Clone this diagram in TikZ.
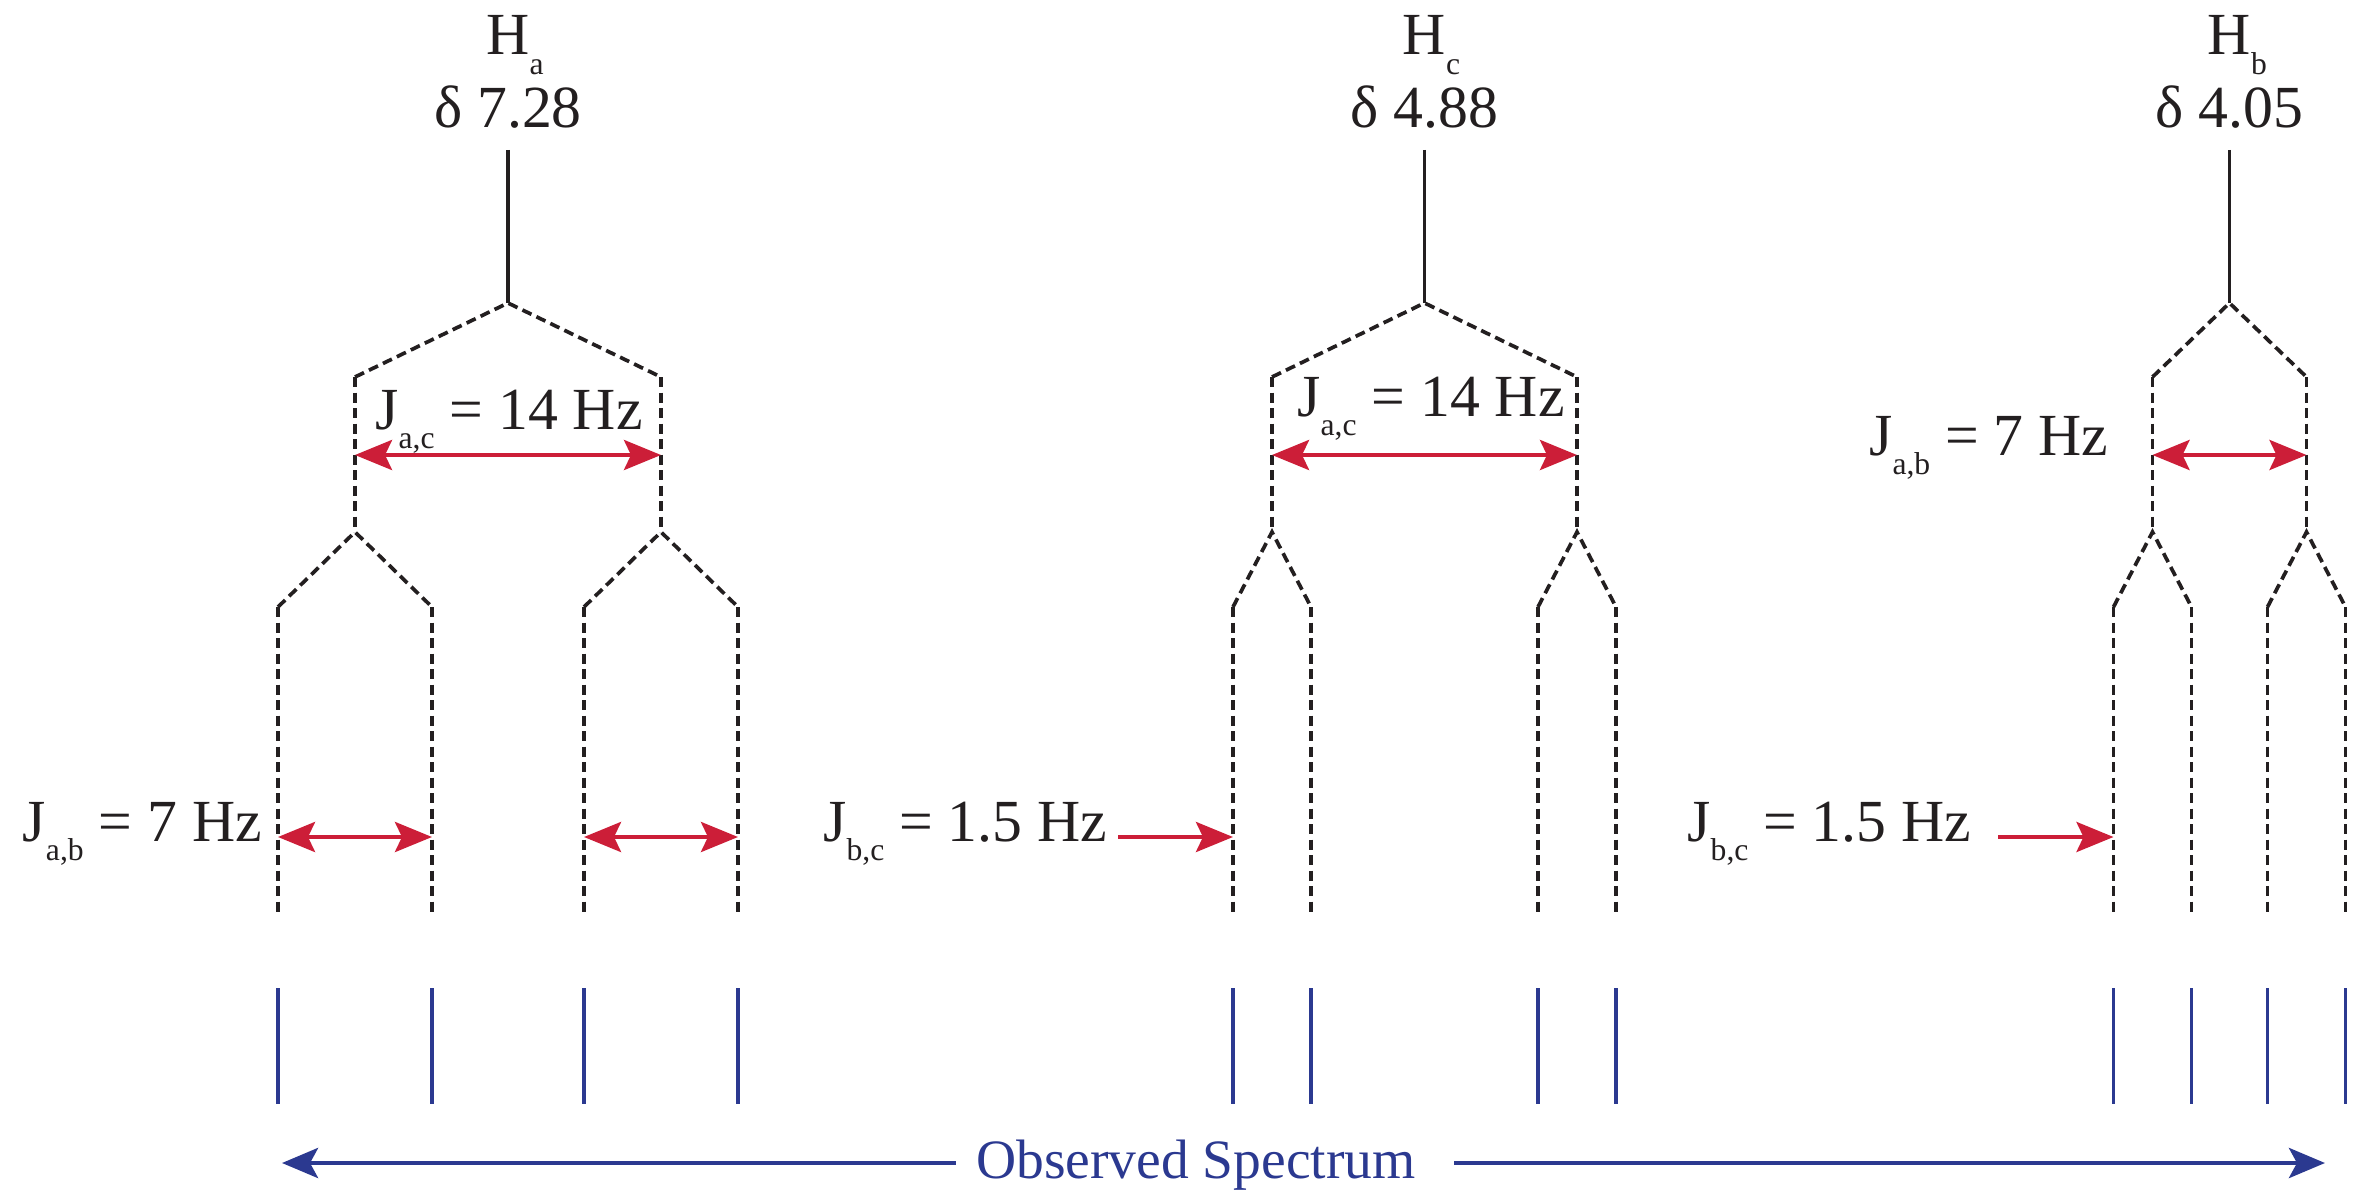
\documentclass[tikz,border=0pt]{standalone}
\usepackage{fontspec}
\setmainfont{Liberation Serif}
\usetikzlibrary{arrows.meta}

\definecolor{jred}{RGB}{204,30,56}
\definecolor{specblue}{RGB}{43,57,144}
\definecolor{ink}{RGB}{35,31,32}

\newcommand\lowsub[1]{\raisebox{-5.5pt}{\fontsize{9}{9}\selectfont #1}}

\tikzset{
  jtip/.tip={Stealth[length=0.37cm,width=0.30cm,inset=0.07cm]},
  stip/.tip={Stealth[length=0.36cm,width=0.30cm,inset=0.08cm]},
  txt/.style={text=ink, inner sep=0pt, font=\fontsize{17}{20}\selectfont},
  stemline/.style={draw=ink, line width=0.95pt},
  dashsplit/.style={draw=ink, line width=1.05pt, dash pattern=on 0.1cm off 0.055cm},
  peak/.style={draw=specblue, line width=1.05pt},
  jarrow/.style={draw=jred, line width=1.2pt, -jtip},
  jboth/.style={jarrow, jtip-jtip},
  specarrow/.style={draw=specblue, line width=1.35pt, -stip},
}

\begin{document}
\begin{tikzpicture}
  \useasboundingbox (0,0) rectangle (23.55,11.94);

  % reference levels
  \coordinate (jtop) at (0,7.39);
  \coordinate (jlow) at (0,3.57);
  \coordinate (dashend) at (0,2.82);
  \coordinate (peaktop) at (0,2.06);
  \coordinate (peakbot) at (0,0.90);

  % one splitting tree per proton: name / centre / first and second half splitting / shift
  \foreach \n/\x/\da/\db/\v in {a/5.08/1.53/0.77/7.28, c/14.245/1.525/0.39/4.88, b/22.295/0.77/0.39/4.05} {
    \node[txt, anchor=base] (H\n) at (\x,11.39) {H\rlap{\lowsub{\n}}};
    \node[txt, anchor=base] (d\n) at (\x,10.66) {δ \v};
    \coordinate (\n-0) at (\x,8.91);
    \coordinate (\n-L) at (\x-\da,8.17);
    \coordinate (\n-R) at (\x+\da,8.17);
    \coordinate (\n-Lb) at (\x-\da,6.62);
    \coordinate (\n-Rb) at (\x+\da,6.62);
    \coordinate (\n-1) at (\x-\da-\db,5.87);
    \coordinate (\n-2) at (\x-\da+\db,5.87);
    \coordinate (\n-3) at (\x+\da-\db,5.87);
    \coordinate (\n-4) at (\x+\da+\db,5.87);
    \draw[stemline] ([yshift=-0.22cm]d\n.base) -- (\n-0);
    \draw[dashsplit] (\n-L) -- (\n-0) -- (\n-R);
    \draw[dashsplit] (\n-L) -- (\n-Lb) (\n-R) -- (\n-Rb);
    \draw[dashsplit] (\n-1) -- (\n-Lb) -- (\n-2);
    \draw[dashsplit] (\n-3) -- (\n-Rb) -- (\n-4);
    \foreach \k in {1,...,4} {
      \draw[dashsplit] (\n-\k) -- (\n-\k |- dashend);
      \draw[peak] (\n-\k |- peaktop) -- (\n-\k |- peakbot);
    }
    \draw[jboth] (\n-L |- jtop) -- (\n-R |- jtop);
  }

  % coupling constants
  \node[txt, anchor=base] (Jac1) at (5.09,7.65) {J\lowsub{a,c} = 14 Hz};
  \node[txt, anchor=base] (Jac2) at (14.31,7.78) {J\lowsub{a,c} = 14 Hz};
  \node[txt, anchor=base east] (Jab2) at (21.09,7.39) {J\lowsub{a,b} = 7 Hz};
  \node[txt, anchor=base west] (Jab1) at (0.22,3.53) {J\lowsub{a,b} = 7 Hz};
  \node[txt, anchor=base east] (Jbc1) at (11.08,3.53) {J\lowsub{b,c} = 1.5 Hz};
  \node[txt, anchor=base east] (Jbc2) at (19.72,3.53) {J\lowsub{b,c} = 1.5 Hz};

  \draw[jboth] (a-1 |- jlow) -- (a-2 |- jlow);
  \draw[jboth] (a-3 |- jlow) -- (a-4 |- jlow);
  \draw[jarrow] ([xshift=0.1cm]Jbc1.east |- jlow) -- (c-1 |- jlow);
  \draw[jarrow] ([xshift=0.26cm]Jbc2.east |- jlow) -- (b-1 |- jlow);

  % spectrum axis
  \node[txt, text=specblue, anchor=base, font=\fontsize{15.8}{18}\selectfont] (spec) at (11.96,0.16) {Observed Spectrum};
  \coordinate (specL) at (2.82,0.31);
  \coordinate (specR) at (23.25,0.31);
  \draw[specarrow] ([xshift=-0.2cm]spec.west |- specL) -- (specL);
  \draw[specarrow] ([xshift=0.38cm]spec.east |- specR) -- (specR);
\end{tikzpicture}
\end{document}
